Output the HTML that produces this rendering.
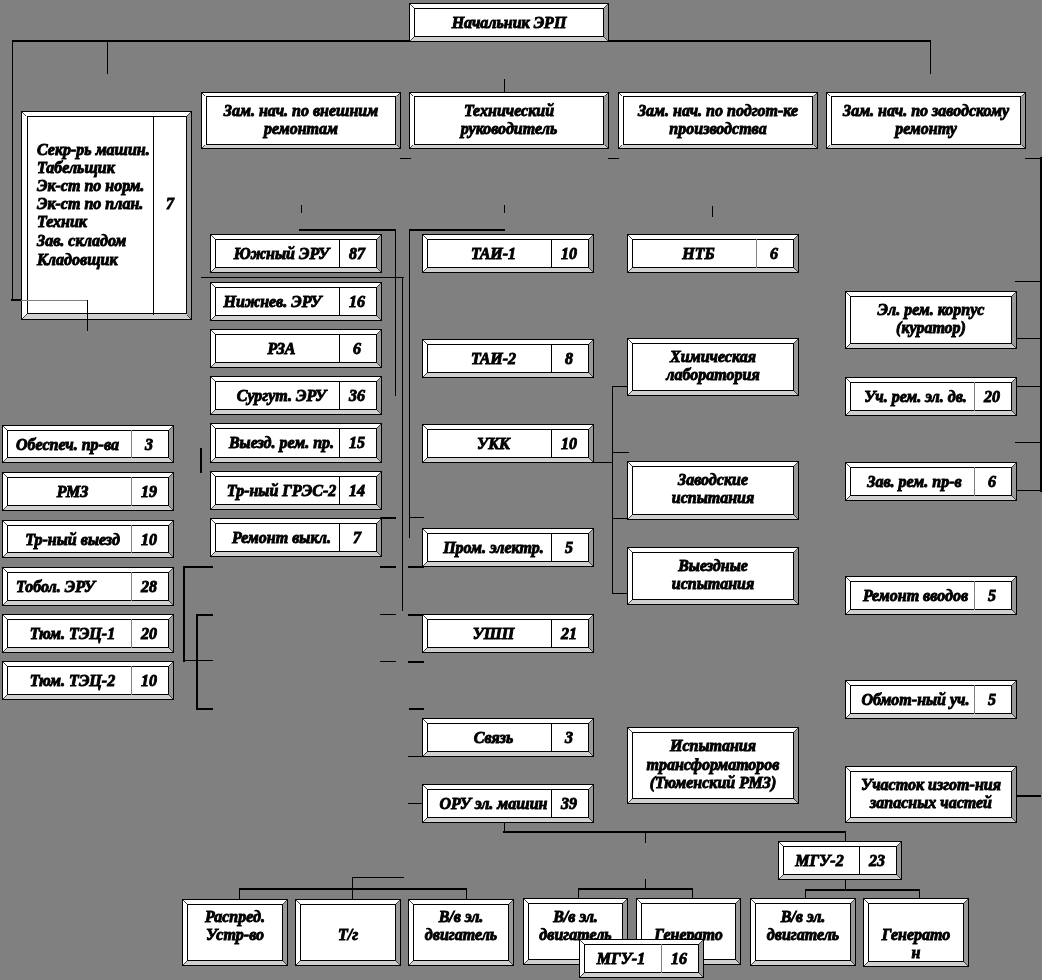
<!DOCTYPE html>
<html><head><meta charset="utf-8"><title>ЭРП</title>
<style>
html,body{margin:0;padding:0;}
body{width:1042px;height:980px;background:#808080;position:relative;overflow:hidden;
font-family:"Liberation Serif",serif;font-weight:bold;font-style:italic;font-size:16px;color:#000;}
.l{position:absolute;background:#000;}
.b{position:absolute;box-sizing:border-box;border:4px solid;border-color:#fff #999 #d0d0d0 #fff;background:#fff;
box-shadow:0 0 0 1px #000,inset 0 0 0 1px #000;}
.d{position:absolute;background:#000;width:1px;}
.g{position:absolute;fill:#404040;}
.t{position:absolute;white-space:nowrap;will-change:transform;text-align:center;line-height:18px;height:18px;-webkit-text-stroke:0.9px #000;}
</style></head><body>

<div class="l" style="left:12px;top:40px;width:919px;height:2px"></div>
<div class="l" style="left:12px;top:40px;width:1px;height:261px"></div>
<div class="l" style="left:107px;top:40px;width:1px;height:34px"></div>
<div class="l" style="left:930px;top:40px;width:1px;height:34px"></div>
<div class="l" style="left:504px;top:79px;width:1px;height:14px"></div>
<div class="l" style="left:11px;top:299px;width:11px;height:2px"></div>
<div class="l" style="left:400px;top:158px;width:11px;height:1px"></div>
<div class="l" style="left:608px;top:158px;width:11px;height:1px"></div>
<div class="l" style="left:1025px;top:158px;width:16px;height:1px"></div>
<div class="l" style="left:1040px;top:157px;width:2px;height:335px"></div>
<div class="l" style="left:1015px;top:281px;width:26px;height:1px"></div>
<div class="l" style="left:1015px;top:338px;width:26px;height:1px"></div>
<div class="l" style="left:1015px;top:386px;width:26px;height:1px"></div>
<div class="l" style="left:1015px;top:442px;width:26px;height:1px"></div>
<div class="l" style="left:1015px;top:490px;width:26px;height:1px"></div>
<div class="l" style="left:1016px;top:795px;width:25px;height:2px"></div>
<div class="l" style="left:301px;top:205px;width:1px;height:8px"></div>
<div class="l" style="left:504px;top:205px;width:1px;height:8px"></div>
<div class="l" style="left:712px;top:206px;width:1px;height:11px"></div>
<div class="l" style="left:299px;top:229px;width:97px;height:2px"></div>
<div class="l" style="left:409px;top:229px;width:96px;height:2px"></div>
<div class="l" style="left:395px;top:229px;width:1px;height:167px"></div>
<div class="l" style="left:409px;top:229px;width:1px;height:309px"></div>
<div class="l" style="left:201px;top:277px;width:203px;height:1px"></div>
<div class="l" style="left:402px;top:277px;width:1px;height:334px"></div>
<div class="l" style="left:200px;top:448px;width:2px;height:25px"></div>
<div class="l" style="left:380px;top:517px;width:16px;height:2px"></div>
<div class="l" style="left:409px;top:517px;width:15px;height:1px"></div>
<div class="l" style="left:183px;top:566px;width:30px;height:2px"></div>
<div class="l" style="left:380px;top:566px;width:16px;height:2px"></div>
<div class="l" style="left:408px;top:566px;width:16px;height:2px"></div>
<div class="l" style="left:183px;top:566px;width:2px;height:96px"></div>
<div class="l" style="left:183px;top:660px;width:30px;height:1px"></div>
<div class="l" style="left:196px;top:614px;width:2px;height:95px"></div>
<div class="l" style="left:196px;top:614px;width:17px;height:2px"></div>
<div class="l" style="left:196px;top:708px;width:17px;height:2px"></div>
<div class="l" style="left:380px;top:614px;width:16px;height:1px"></div>
<div class="l" style="left:408px;top:614px;width:16px;height:2px"></div>
<div class="l" style="left:380px;top:661px;width:16px;height:1px"></div>
<div class="l" style="left:408px;top:661px;width:16px;height:2px"></div>
<div class="l" style="left:409px;top:708px;width:15px;height:2px"></div>
<div class="l" style="left:408px;top:756px;width:15px;height:1px"></div>
<div class="l" style="left:408px;top:803px;width:15px;height:1px"></div>
<div class="l" style="left:504px;top:822px;width:1px;height:10px"></div>
<div class="l" style="left:503px;top:831px;width:343px;height:2px"></div>
<div class="l" style="left:845px;top:831px;width:1px;height:11px"></div>
<div class="l" style="left:645px;top:831px;width:1px;height:12px"></div>
<div class="l" style="left:645px;top:879px;width:1px;height:10px"></div>
<div class="l" style="left:578px;top:888px;width:115px;height:2px"></div>
<div class="l" style="left:578px;top:888px;width:1px;height:11px"></div>
<div class="l" style="left:692px;top:888px;width:1px;height:11px"></div>
<div class="l" style="left:845px;top:879px;width:1px;height:11px"></div>
<div class="l" style="left:805px;top:889px;width:115px;height:2px"></div>
<div class="l" style="left:805px;top:889px;width:1px;height:10px"></div>
<div class="l" style="left:919px;top:889px;width:1px;height:10px"></div>
<div class="l" style="left:239px;top:888px;width:228px;height:2px"></div>
<div class="l" style="left:239px;top:888px;width:1px;height:12px"></div>
<div class="l" style="left:466px;top:888px;width:1px;height:12px"></div>
<div class="l" style="left:352px;top:877px;width:1px;height:23px"></div>
<div class="l" style="left:352px;top:877px;width:52px;height:1px"></div>
<div class="l" style="left:612px;top:386px;width:1px;height:208px"></div>
<div class="l" style="left:612px;top:386px;width:16px;height:1px"></div>
<div class="l" style="left:612px;top:452px;width:17px;height:1px"></div>
<div class="l" style="left:593px;top:462px;width:20px;height:1px"></div>
<div class="l" style="left:612px;top:518px;width:17px;height:1px"></div>
<div class="l" style="left:612px;top:593px;width:17px;height:1px"></div>
<div class="b" style="left:410px;top:4px;width:198px;height:37px;border-width:4px"></div>
<svg class="g" style="left:409px;top:3px" width="200" height="39"><path d="M1 1h1v1h-1zM2 2h1v1h-1zM3 3h1v1h-1zM4 4h1v1h-1zM198 1h1v1h-1zM197 2h1v1h-1zM196 3h1v1h-1zM195 4h1v1h-1zM1 37h1v1h-1zM2 36h1v1h-1zM3 35h1v1h-1zM4 34h1v1h-1zM198 37h1v1h-1zM197 36h1v1h-1zM196 35h1v1h-1zM195 34h1v1h-1z"/></svg>
<div class="t" style="left:415px;width:188px;top:14px">Начальник ЭРП</div>
<div class="b" style="left:202px;top:93px;width:198px;height:55px;border-width:3px 4px"></div>
<svg class="g" style="left:201px;top:92px" width="200" height="57"><path d="M1 1h1v1h-1zM2 2h1v1h-1zM3 3h1v1h-1zM198 1h1v1h-1zM197 2h1v1h-1zM196 3h1v1h-1zM1 55h1v1h-1zM2 54h1v1h-1zM3 53h1v1h-1zM198 55h1v1h-1zM197 54h1v1h-1zM196 53h1v1h-1z"/></svg>
<div class="t" style="left:207px;width:188px;top:102px">Зам. нач. по внешним</div>
<div class="t" style="left:207px;width:188px;top:120px">ремонтам</div>
<div class="b" style="left:410px;top:93px;width:198px;height:55px;border-width:3px 4px"></div>
<svg class="g" style="left:409px;top:92px" width="200" height="57"><path d="M1 1h1v1h-1zM2 2h1v1h-1zM3 3h1v1h-1zM198 1h1v1h-1zM197 2h1v1h-1zM196 3h1v1h-1zM1 55h1v1h-1zM2 54h1v1h-1zM3 53h1v1h-1zM198 55h1v1h-1zM197 54h1v1h-1zM196 53h1v1h-1z"/></svg>
<div class="t" style="left:415px;width:188px;top:102px">Технический</div>
<div class="t" style="left:415px;width:188px;top:120px">руководитель</div>
<div class="b" style="left:619px;top:93px;width:198px;height:55px;border-width:3px 4px"></div>
<svg class="g" style="left:618px;top:92px" width="200" height="57"><path d="M1 1h1v1h-1zM2 2h1v1h-1zM3 3h1v1h-1zM198 1h1v1h-1zM197 2h1v1h-1zM196 3h1v1h-1zM1 55h1v1h-1zM2 54h1v1h-1zM3 53h1v1h-1zM198 55h1v1h-1zM197 54h1v1h-1zM196 53h1v1h-1z"/></svg>
<div class="t" style="left:624px;width:188px;top:102px">Зам. нач. по подгот-ке</div>
<div class="t" style="left:624px;width:188px;top:120px">производства</div>
<div class="b" style="left:827px;top:93px;width:198px;height:55px;border-width:3px 4px"></div>
<svg class="g" style="left:826px;top:92px" width="200" height="57"><path d="M1 1h1v1h-1zM2 2h1v1h-1zM3 3h1v1h-1zM198 1h1v1h-1zM197 2h1v1h-1zM196 3h1v1h-1zM1 55h1v1h-1zM2 54h1v1h-1zM3 53h1v1h-1zM198 55h1v1h-1zM197 54h1v1h-1zM196 53h1v1h-1z"/></svg>
<div class="t" style="left:832px;width:188px;top:102px">Зам. нач. по заводскому</div>
<div class="t" style="left:832px;width:188px;top:120px">ремонту</div>
<div class="b" style="left:22px;top:112px;width:169px;height:207px;border-width:4px 4px 5px 5px"></div>
<div class="d" style="left:153px;top:116px;height:199px;background:#000"></div>
<svg class="g" style="left:21px;top:111px" width="171" height="209"><path d="M1 1h1v1h-1zM2 2h1v1h-1zM3 3h1v1h-1zM4 4h1v1h-1zM169 1h1v1h-1zM168 2h1v1h-1zM167 3h1v1h-1zM166 4h1v1h-1zM1 207h1v1h-1zM2 206h1v1h-1zM3 205h1v1h-1zM4 204h1v1h-1zM5 203h1v1h-1zM169 207h1v1h-1zM168 206h1v1h-1zM167 205h1v1h-1zM166 204h1v1h-1z"/></svg>
<div class="t" style="left:37px;top:141px;text-align:left">Секр-рь машин.</div>
<div class="t" style="left:37px;top:159px;text-align:left">Табельщик</div>
<div class="t" style="left:37px;top:177px;text-align:left">Эк-ст по норм.</div>
<div class="t" style="left:37px;top:195px;text-align:left">Эк-ст по план.</div>
<div class="t" style="left:37px;top:213px;text-align:left">Техник</div>
<div class="t" style="left:37px;top:232px;text-align:left">Зав. складом</div>
<div class="t" style="left:37px;top:251px;text-align:left">Кладовщик</div>
<div class="t" style="left:154px;width:32px;top:195px">7</div>
<div class="b" style="left:211px;top:235px;width:170px;height:37px;border-width:4px"></div>
<div class="d" style="left:339px;top:239px;height:29px;background:#000"></div>
<svg class="g" style="left:210px;top:234px" width="172" height="39"><path d="M1 1h1v1h-1zM2 2h1v1h-1zM3 3h1v1h-1zM4 4h1v1h-1zM170 1h1v1h-1zM169 2h1v1h-1zM168 3h1v1h-1zM167 4h1v1h-1zM1 37h1v1h-1zM2 36h1v1h-1zM3 35h1v1h-1zM4 34h1v1h-1zM170 37h1v1h-1zM169 36h1v1h-1zM168 35h1v1h-1zM167 34h1v1h-1z"/></svg>
<div class="t" style="left:220px;width:123px;top:245px">Южный ЭРУ</div>
<div class="t" style="left:339px;width:36px;top:245px">87</div>
<div class="b" style="left:211px;top:283px;width:170px;height:37px;border-width:4px"></div>
<div class="d" style="left:339px;top:287px;height:29px;background:#000"></div>
<svg class="g" style="left:210px;top:282px" width="172" height="39"><path d="M1 1h1v1h-1zM2 2h1v1h-1zM3 3h1v1h-1zM4 4h1v1h-1zM170 1h1v1h-1zM169 2h1v1h-1zM168 3h1v1h-1zM167 4h1v1h-1zM1 37h1v1h-1zM2 36h1v1h-1zM3 35h1v1h-1zM4 34h1v1h-1zM170 37h1v1h-1zM169 36h1v1h-1zM168 35h1v1h-1zM167 34h1v1h-1z"/></svg>
<div class="t" style="left:211px;width:123px;top:293px">Нижнев. ЭРУ</div>
<div class="t" style="left:339px;width:36px;top:293px">16</div>
<div class="b" style="left:211px;top:330px;width:170px;height:37px;border-width:4px"></div>
<div class="d" style="left:339px;top:334px;height:29px;background:#000"></div>
<svg class="g" style="left:210px;top:329px" width="172" height="39"><path d="M1 1h1v1h-1zM2 2h1v1h-1zM3 3h1v1h-1zM4 4h1v1h-1zM170 1h1v1h-1zM169 2h1v1h-1zM168 3h1v1h-1zM167 4h1v1h-1zM1 37h1v1h-1zM2 36h1v1h-1zM3 35h1v1h-1zM4 34h1v1h-1zM170 37h1v1h-1zM169 36h1v1h-1zM168 35h1v1h-1zM167 34h1v1h-1z"/></svg>
<div class="t" style="left:220px;width:123px;top:340px">РЗА</div>
<div class="t" style="left:339px;width:36px;top:340px">6</div>
<div class="b" style="left:211px;top:377px;width:170px;height:37px;border-width:4px"></div>
<div class="d" style="left:339px;top:381px;height:29px;background:#000"></div>
<svg class="g" style="left:210px;top:376px" width="172" height="39"><path d="M1 1h1v1h-1zM2 2h1v1h-1zM3 3h1v1h-1zM4 4h1v1h-1zM170 1h1v1h-1zM169 2h1v1h-1zM168 3h1v1h-1zM167 4h1v1h-1zM1 37h1v1h-1zM2 36h1v1h-1zM3 35h1v1h-1zM4 34h1v1h-1zM170 37h1v1h-1zM169 36h1v1h-1zM168 35h1v1h-1zM167 34h1v1h-1z"/></svg>
<div class="t" style="left:220px;width:123px;top:387px">Сургут. ЭРУ</div>
<div class="t" style="left:339px;width:36px;top:387px">36</div>
<div class="b" style="left:211px;top:424px;width:170px;height:38px;border-width:4px"></div>
<div class="d" style="left:339px;top:428px;height:30px;background:#000"></div>
<svg class="g" style="left:210px;top:423px" width="172" height="40"><path d="M1 1h1v1h-1zM2 2h1v1h-1zM3 3h1v1h-1zM4 4h1v1h-1zM170 1h1v1h-1zM169 2h1v1h-1zM168 3h1v1h-1zM167 4h1v1h-1zM1 38h1v1h-1zM2 37h1v1h-1zM3 36h1v1h-1zM4 35h1v1h-1zM170 38h1v1h-1zM169 37h1v1h-1zM168 36h1v1h-1zM167 35h1v1h-1z"/></svg>
<div class="t" style="left:220px;width:123px;top:434px">Выезд. рем. пр.</div>
<div class="t" style="left:339px;width:36px;top:434px">15</div>
<div class="b" style="left:211px;top:472px;width:170px;height:37px;border-width:4px"></div>
<div class="d" style="left:339px;top:476px;height:29px;background:#000"></div>
<svg class="g" style="left:210px;top:471px" width="172" height="39"><path d="M1 1h1v1h-1zM2 2h1v1h-1zM3 3h1v1h-1zM4 4h1v1h-1zM170 1h1v1h-1zM169 2h1v1h-1zM168 3h1v1h-1zM167 4h1v1h-1zM1 37h1v1h-1zM2 36h1v1h-1zM3 35h1v1h-1zM4 34h1v1h-1zM170 37h1v1h-1zM169 36h1v1h-1zM168 35h1v1h-1zM167 34h1v1h-1z"/></svg>
<div class="t" style="left:220px;width:123px;top:482px">Тр-ный ГРЭС-2</div>
<div class="t" style="left:339px;width:36px;top:482px">14</div>
<div class="b" style="left:211px;top:519px;width:170px;height:37px;border-width:4px"></div>
<div class="d" style="left:339px;top:523px;height:29px;background:#000"></div>
<svg class="g" style="left:210px;top:518px" width="172" height="39"><path d="M1 1h1v1h-1zM2 2h1v1h-1zM3 3h1v1h-1zM4 4h1v1h-1zM170 1h1v1h-1zM169 2h1v1h-1zM168 3h1v1h-1zM167 4h1v1h-1zM1 37h1v1h-1zM2 36h1v1h-1zM3 35h1v1h-1zM4 34h1v1h-1zM170 37h1v1h-1zM169 36h1v1h-1zM168 35h1v1h-1zM167 34h1v1h-1z"/></svg>
<div class="t" style="left:220px;width:123px;top:529px">Ремонт выкл.</div>
<div class="t" style="left:339px;width:36px;top:529px">7</div>
<div class="b" style="left:3px;top:426px;width:170px;height:36px;border-width:4px"></div>
<div class="d" style="left:131px;top:430px;height:28px;background:#808080"></div>
<svg class="g" style="left:2px;top:425px" width="172" height="38"><path d="M1 1h1v1h-1zM2 2h1v1h-1zM3 3h1v1h-1zM4 4h1v1h-1zM170 1h1v1h-1zM169 2h1v1h-1zM168 3h1v1h-1zM167 4h1v1h-1zM1 36h1v1h-1zM2 35h1v1h-1zM3 34h1v1h-1zM4 33h1v1h-1zM170 36h1v1h-1zM169 35h1v1h-1zM168 34h1v1h-1zM167 33h1v1h-1z"/></svg>
<div class="t" style="left:16px;top:436px;text-align:left">Обеспеч. пр-ва</div>
<div class="t" style="left:131px;width:36px;top:436px">3</div>
<div class="b" style="left:3px;top:473px;width:170px;height:37px;border-width:4px"></div>
<div class="d" style="left:131px;top:477px;height:29px;background:#808080"></div>
<svg class="g" style="left:2px;top:472px" width="172" height="39"><path d="M1 1h1v1h-1zM2 2h1v1h-1zM3 3h1v1h-1zM4 4h1v1h-1zM170 1h1v1h-1zM169 2h1v1h-1zM168 3h1v1h-1zM167 4h1v1h-1zM1 37h1v1h-1zM2 36h1v1h-1zM3 35h1v1h-1zM4 34h1v1h-1zM170 37h1v1h-1zM169 36h1v1h-1zM168 35h1v1h-1zM167 34h1v1h-1z"/></svg>
<div class="t" style="left:11px;width:123px;top:483px">РМЗ</div>
<div class="t" style="left:131px;width:36px;top:483px">19</div>
<div class="b" style="left:3px;top:521px;width:170px;height:36px;border-width:4px"></div>
<div class="d" style="left:131px;top:525px;height:28px;background:#808080"></div>
<svg class="g" style="left:2px;top:520px" width="172" height="38"><path d="M1 1h1v1h-1zM2 2h1v1h-1zM3 3h1v1h-1zM4 4h1v1h-1zM170 1h1v1h-1zM169 2h1v1h-1zM168 3h1v1h-1zM167 4h1v1h-1zM1 36h1v1h-1zM2 35h1v1h-1zM3 34h1v1h-1zM4 33h1v1h-1zM170 36h1v1h-1zM169 35h1v1h-1zM168 34h1v1h-1zM167 33h1v1h-1z"/></svg>
<div class="t" style="left:11px;width:123px;top:531px">Тр-ный выезд</div>
<div class="t" style="left:131px;width:36px;top:531px">10</div>
<div class="b" style="left:3px;top:568px;width:170px;height:37px;border-width:4px"></div>
<div class="d" style="left:131px;top:572px;height:29px;background:#808080"></div>
<svg class="g" style="left:2px;top:567px" width="172" height="39"><path d="M1 1h1v1h-1zM2 2h1v1h-1zM3 3h1v1h-1zM4 4h1v1h-1zM170 1h1v1h-1zM169 2h1v1h-1zM168 3h1v1h-1zM167 4h1v1h-1zM1 37h1v1h-1zM2 36h1v1h-1zM3 35h1v1h-1zM4 34h1v1h-1zM170 37h1v1h-1zM169 36h1v1h-1zM168 35h1v1h-1zM167 34h1v1h-1z"/></svg>
<div class="t" style="left:16px;top:578px;text-align:left">Тобол. ЭРУ</div>
<div class="t" style="left:131px;width:36px;top:578px">28</div>
<div class="b" style="left:3px;top:615px;width:170px;height:37px;border-width:4px"></div>
<div class="d" style="left:131px;top:619px;height:29px;background:#808080"></div>
<svg class="g" style="left:2px;top:614px" width="172" height="39"><path d="M1 1h1v1h-1zM2 2h1v1h-1zM3 3h1v1h-1zM4 4h1v1h-1zM170 1h1v1h-1zM169 2h1v1h-1zM168 3h1v1h-1zM167 4h1v1h-1zM1 37h1v1h-1zM2 36h1v1h-1zM3 35h1v1h-1zM4 34h1v1h-1zM170 37h1v1h-1zM169 36h1v1h-1zM168 35h1v1h-1zM167 34h1v1h-1z"/></svg>
<div class="t" style="left:11px;width:123px;top:625px">Тюм. ТЭЦ-1</div>
<div class="t" style="left:131px;width:36px;top:625px">20</div>
<div class="b" style="left:3px;top:662px;width:170px;height:37px;border-width:4px"></div>
<div class="d" style="left:131px;top:666px;height:29px;background:#808080"></div>
<svg class="g" style="left:2px;top:661px" width="172" height="39"><path d="M1 1h1v1h-1zM2 2h1v1h-1zM3 3h1v1h-1zM4 4h1v1h-1zM170 1h1v1h-1zM169 2h1v1h-1zM168 3h1v1h-1zM167 4h1v1h-1zM1 37h1v1h-1zM2 36h1v1h-1zM3 35h1v1h-1zM4 34h1v1h-1zM170 37h1v1h-1zM169 36h1v1h-1zM168 35h1v1h-1zM167 34h1v1h-1z"/></svg>
<div class="t" style="left:11px;width:123px;top:672px">Тюм. ТЭЦ-2</div>
<div class="t" style="left:131px;width:36px;top:672px">10</div>
<div class="b" style="left:423px;top:235px;width:170px;height:37px;border-width:4px"></div>
<div class="d" style="left:551px;top:239px;height:29px;background:#000"></div>
<svg class="g" style="left:422px;top:234px" width="172" height="39"><path d="M1 1h1v1h-1zM2 2h1v1h-1zM3 3h1v1h-1zM4 4h1v1h-1zM170 1h1v1h-1zM169 2h1v1h-1zM168 3h1v1h-1zM167 4h1v1h-1zM1 37h1v1h-1zM2 36h1v1h-1zM3 35h1v1h-1zM4 34h1v1h-1zM170 37h1v1h-1zM169 36h1v1h-1zM168 35h1v1h-1zM167 34h1v1h-1z"/></svg>
<div class="t" style="left:432px;width:123px;top:245px">ТАИ-1</div>
<div class="t" style="left:551px;width:36px;top:245px">10</div>
<div class="b" style="left:423px;top:340px;width:170px;height:37px;border-width:4px"></div>
<div class="d" style="left:551px;top:344px;height:29px;background:#000"></div>
<svg class="g" style="left:422px;top:339px" width="172" height="39"><path d="M1 1h1v1h-1zM2 2h1v1h-1zM3 3h1v1h-1zM4 4h1v1h-1zM170 1h1v1h-1zM169 2h1v1h-1zM168 3h1v1h-1zM167 4h1v1h-1zM1 37h1v1h-1zM2 36h1v1h-1zM3 35h1v1h-1zM4 34h1v1h-1zM170 37h1v1h-1zM169 36h1v1h-1zM168 35h1v1h-1zM167 34h1v1h-1z"/></svg>
<div class="t" style="left:432px;width:123px;top:350px">ТАИ-2</div>
<div class="t" style="left:551px;width:36px;top:350px">8</div>
<div class="b" style="left:423px;top:425px;width:170px;height:37px;border-width:4px"></div>
<div class="d" style="left:551px;top:429px;height:29px;background:#000"></div>
<svg class="g" style="left:422px;top:424px" width="172" height="39"><path d="M1 1h1v1h-1zM2 2h1v1h-1zM3 3h1v1h-1zM4 4h1v1h-1zM170 1h1v1h-1zM169 2h1v1h-1zM168 3h1v1h-1zM167 4h1v1h-1zM1 37h1v1h-1zM2 36h1v1h-1zM3 35h1v1h-1zM4 34h1v1h-1zM170 37h1v1h-1zM169 36h1v1h-1zM168 35h1v1h-1zM167 34h1v1h-1z"/></svg>
<div class="t" style="left:432px;width:123px;top:435px">УКК</div>
<div class="t" style="left:551px;width:36px;top:435px">10</div>
<div class="b" style="left:423px;top:529px;width:170px;height:37px;border-width:4px"></div>
<div class="d" style="left:551px;top:533px;height:29px;background:#000"></div>
<svg class="g" style="left:422px;top:528px" width="172" height="39"><path d="M1 1h1v1h-1zM2 2h1v1h-1zM3 3h1v1h-1zM4 4h1v1h-1zM170 1h1v1h-1zM169 2h1v1h-1zM168 3h1v1h-1zM167 4h1v1h-1zM1 37h1v1h-1zM2 36h1v1h-1zM3 35h1v1h-1zM4 34h1v1h-1zM170 37h1v1h-1zM169 36h1v1h-1zM168 35h1v1h-1zM167 34h1v1h-1z"/></svg>
<div class="t" style="left:432px;width:123px;top:539px">Пром. электр.</div>
<div class="t" style="left:551px;width:36px;top:539px">5</div>
<div class="b" style="left:423px;top:615px;width:170px;height:37px;border-width:4px"></div>
<div class="d" style="left:551px;top:619px;height:29px;background:#000"></div>
<svg class="g" style="left:422px;top:614px" width="172" height="39"><path d="M1 1h1v1h-1zM2 2h1v1h-1zM3 3h1v1h-1zM4 4h1v1h-1zM170 1h1v1h-1zM169 2h1v1h-1zM168 3h1v1h-1zM167 4h1v1h-1zM1 37h1v1h-1zM2 36h1v1h-1zM3 35h1v1h-1zM4 34h1v1h-1zM170 37h1v1h-1zM169 36h1v1h-1zM168 35h1v1h-1zM167 34h1v1h-1z"/></svg>
<div class="t" style="left:432px;width:123px;top:625px">УШП</div>
<div class="t" style="left:551px;width:36px;top:625px">21</div>
<div class="b" style="left:423px;top:719px;width:170px;height:37px;border-width:4px"></div>
<div class="d" style="left:551px;top:723px;height:29px;background:#000"></div>
<svg class="g" style="left:422px;top:718px" width="172" height="39"><path d="M1 1h1v1h-1zM2 2h1v1h-1zM3 3h1v1h-1zM4 4h1v1h-1zM170 1h1v1h-1zM169 2h1v1h-1zM168 3h1v1h-1zM167 4h1v1h-1zM1 37h1v1h-1zM2 36h1v1h-1zM3 35h1v1h-1zM4 34h1v1h-1zM170 37h1v1h-1zM169 36h1v1h-1zM168 35h1v1h-1zM167 34h1v1h-1z"/></svg>
<div class="t" style="left:432px;width:123px;top:729px">Связь</div>
<div class="t" style="left:551px;width:36px;top:729px">3</div>
<div class="b" style="left:423px;top:785px;width:170px;height:37px;border-width:4px"></div>
<div class="d" style="left:551px;top:789px;height:29px;background:#000"></div>
<svg class="g" style="left:422px;top:784px" width="172" height="39"><path d="M1 1h1v1h-1zM2 2h1v1h-1zM3 3h1v1h-1zM4 4h1v1h-1zM170 1h1v1h-1zM169 2h1v1h-1zM168 3h1v1h-1zM167 4h1v1h-1zM1 37h1v1h-1zM2 36h1v1h-1zM3 35h1v1h-1zM4 34h1v1h-1zM170 37h1v1h-1zM169 36h1v1h-1zM168 35h1v1h-1zM167 34h1v1h-1z"/></svg>
<div class="t" style="left:432px;width:123px;top:795px">ОРУ эл. машин</div>
<div class="t" style="left:551px;width:36px;top:795px">39</div>
<div class="b" style="left:628px;top:235px;width:170px;height:37px;border-width:4px"></div>
<div class="d" style="left:756px;top:239px;height:29px;background:#808080"></div>
<svg class="g" style="left:627px;top:234px" width="172" height="39"><path d="M1 1h1v1h-1zM2 2h1v1h-1zM3 3h1v1h-1zM4 4h1v1h-1zM170 1h1v1h-1zM169 2h1v1h-1zM168 3h1v1h-1zM167 4h1v1h-1zM1 37h1v1h-1zM2 36h1v1h-1zM3 35h1v1h-1zM4 34h1v1h-1zM170 37h1v1h-1zM169 36h1v1h-1zM168 35h1v1h-1zM167 34h1v1h-1z"/></svg>
<div class="t" style="left:637px;width:123px;top:245px">НТБ</div>
<div class="t" style="left:756px;width:36px;top:245px">6</div>
<div class="b" style="left:628px;top:339px;width:170px;height:56px;border-width:4px"></div>
<svg class="g" style="left:627px;top:338px" width="172" height="58"><path d="M1 1h1v1h-1zM2 2h1v1h-1zM3 3h1v1h-1zM4 4h1v1h-1zM170 1h1v1h-1zM169 2h1v1h-1zM168 3h1v1h-1zM167 4h1v1h-1zM1 56h1v1h-1zM2 55h1v1h-1zM3 54h1v1h-1zM4 53h1v1h-1zM170 56h1v1h-1zM169 55h1v1h-1zM168 54h1v1h-1zM167 53h1v1h-1z"/></svg>
<div class="t" style="left:633px;width:160px;top:348px">Химическая</div>
<div class="t" style="left:633px;width:160px;top:366px">лаборатория</div>
<div class="b" style="left:628px;top:462px;width:170px;height:57px;border-width:4px"></div>
<svg class="g" style="left:627px;top:461px" width="172" height="59"><path d="M1 1h1v1h-1zM2 2h1v1h-1zM3 3h1v1h-1zM4 4h1v1h-1zM170 1h1v1h-1zM169 2h1v1h-1zM168 3h1v1h-1zM167 4h1v1h-1zM1 57h1v1h-1zM2 56h1v1h-1zM3 55h1v1h-1zM4 54h1v1h-1zM170 57h1v1h-1zM169 56h1v1h-1zM168 55h1v1h-1zM167 54h1v1h-1z"/></svg>
<div class="t" style="left:633px;width:160px;top:471px">Заводские</div>
<div class="t" style="left:633px;width:160px;top:489px">испытания</div>
<div class="b" style="left:628px;top:548px;width:170px;height:56px;border-width:4px"></div>
<svg class="g" style="left:627px;top:547px" width="172" height="58"><path d="M1 1h1v1h-1zM2 2h1v1h-1zM3 3h1v1h-1zM4 4h1v1h-1zM170 1h1v1h-1zM169 2h1v1h-1zM168 3h1v1h-1zM167 4h1v1h-1zM1 56h1v1h-1zM2 55h1v1h-1zM3 54h1v1h-1zM4 53h1v1h-1zM170 56h1v1h-1zM169 55h1v1h-1zM168 54h1v1h-1zM167 53h1v1h-1z"/></svg>
<div class="t" style="left:633px;width:160px;top:557px">Выездные</div>
<div class="t" style="left:633px;width:160px;top:575px">испытания</div>
<div class="b" style="left:628px;top:728px;width:170px;height:75px;border-width:4px"></div>
<svg class="g" style="left:627px;top:727px" width="172" height="77"><path d="M1 1h1v1h-1zM2 2h1v1h-1zM3 3h1v1h-1zM4 4h1v1h-1zM170 1h1v1h-1zM169 2h1v1h-1zM168 3h1v1h-1zM167 4h1v1h-1zM1 75h1v1h-1zM2 74h1v1h-1zM3 73h1v1h-1zM4 72h1v1h-1zM170 75h1v1h-1zM169 74h1v1h-1zM168 73h1v1h-1zM167 72h1v1h-1z"/></svg>
<div class="t" style="left:633px;width:160px;top:737px">Испытания</div>
<div class="t" style="left:633px;width:160px;top:756px">трансформаторов</div>
<div class="t" style="left:633px;width:160px;top:774px">(Тюменский РМЗ)</div>
<div class="b" style="left:846px;top:292px;width:170px;height:56px;border-width:4px"></div>
<svg class="g" style="left:845px;top:291px" width="172" height="58"><path d="M1 1h1v1h-1zM2 2h1v1h-1zM3 3h1v1h-1zM4 4h1v1h-1zM170 1h1v1h-1zM169 2h1v1h-1zM168 3h1v1h-1zM167 4h1v1h-1zM1 56h1v1h-1zM2 55h1v1h-1zM3 54h1v1h-1zM4 53h1v1h-1zM170 56h1v1h-1zM169 55h1v1h-1zM168 54h1v1h-1zM167 53h1v1h-1z"/></svg>
<div class="t" style="left:851px;width:160px;top:301px">Эл. рем. корпус</div>
<div class="t" style="left:851px;width:160px;top:319px">(куратор)</div>
<div class="b" style="left:846px;top:378px;width:170px;height:37px;border-width:4px"></div>
<div class="d" style="left:974px;top:382px;height:29px;background:#808080"></div>
<svg class="g" style="left:845px;top:377px" width="172" height="39"><path d="M1 1h1v1h-1zM2 2h1v1h-1zM3 3h1v1h-1zM4 4h1v1h-1zM170 1h1v1h-1zM169 2h1v1h-1zM168 3h1v1h-1zM167 4h1v1h-1zM1 37h1v1h-1zM2 36h1v1h-1zM3 35h1v1h-1zM4 34h1v1h-1zM170 37h1v1h-1zM169 36h1v1h-1zM168 35h1v1h-1zM167 34h1v1h-1z"/></svg>
<div class="t" style="left:854px;width:123px;top:388px">Уч. рем. эл. дв.</div>
<div class="t" style="left:974px;width:36px;top:388px">20</div>
<div class="b" style="left:846px;top:463px;width:170px;height:37px;border-width:4px"></div>
<div class="d" style="left:974px;top:467px;height:29px;background:#808080"></div>
<svg class="g" style="left:845px;top:462px" width="172" height="39"><path d="M1 1h1v1h-1zM2 2h1v1h-1zM3 3h1v1h-1zM4 4h1v1h-1zM170 1h1v1h-1zM169 2h1v1h-1zM168 3h1v1h-1zM167 4h1v1h-1zM1 37h1v1h-1zM2 36h1v1h-1zM3 35h1v1h-1zM4 34h1v1h-1zM170 37h1v1h-1zM169 36h1v1h-1zM168 35h1v1h-1zM167 34h1v1h-1z"/></svg>
<div class="t" style="left:853px;width:123px;top:473px">Зав. рем. пр-в</div>
<div class="t" style="left:974px;width:36px;top:473px">6</div>
<div class="b" style="left:846px;top:577px;width:170px;height:37px;border-width:4px"></div>
<div class="d" style="left:974px;top:581px;height:29px;background:#808080"></div>
<svg class="g" style="left:845px;top:576px" width="172" height="39"><path d="M1 1h1v1h-1zM2 2h1v1h-1zM3 3h1v1h-1zM4 4h1v1h-1zM170 1h1v1h-1zM169 2h1v1h-1zM168 3h1v1h-1zM167 4h1v1h-1zM1 37h1v1h-1zM2 36h1v1h-1zM3 35h1v1h-1zM4 34h1v1h-1zM170 37h1v1h-1zM169 36h1v1h-1zM168 35h1v1h-1zM167 34h1v1h-1z"/></svg>
<div class="t" style="left:854px;width:123px;top:587px">Ремонт вводов</div>
<div class="t" style="left:974px;width:36px;top:587px">5</div>
<div class="b" style="left:846px;top:681px;width:170px;height:37px;border-width:4px"></div>
<div class="d" style="left:974px;top:685px;height:29px;background:#808080"></div>
<svg class="g" style="left:845px;top:680px" width="172" height="39"><path d="M1 1h1v1h-1zM2 2h1v1h-1zM3 3h1v1h-1zM4 4h1v1h-1zM170 1h1v1h-1zM169 2h1v1h-1zM168 3h1v1h-1zM167 4h1v1h-1zM1 37h1v1h-1zM2 36h1v1h-1zM3 35h1v1h-1zM4 34h1v1h-1zM170 37h1v1h-1zM169 36h1v1h-1zM168 35h1v1h-1zM167 34h1v1h-1z"/></svg>
<div class="t" style="left:854px;width:123px;top:691px">Обмот-ный уч.</div>
<div class="t" style="left:974px;width:36px;top:691px">5</div>
<div class="b" style="left:846px;top:767px;width:170px;height:55px;border-width:4px"></div>
<svg class="g" style="left:845px;top:766px" width="172" height="57"><path d="M1 1h1v1h-1zM2 2h1v1h-1zM3 3h1v1h-1zM4 4h1v1h-1zM170 1h1v1h-1zM169 2h1v1h-1zM168 3h1v1h-1zM167 4h1v1h-1zM1 55h1v1h-1zM2 54h1v1h-1zM3 53h1v1h-1zM4 52h1v1h-1zM170 55h1v1h-1zM169 54h1v1h-1zM168 53h1v1h-1zM167 52h1v1h-1z"/></svg>
<div class="t" style="left:851px;width:160px;top:776px">Участок изгот-ния</div>
<div class="t" style="left:851px;width:160px;top:794px">запасных частей</div>
<div class="b" style="left:779px;top:842px;width:122px;height:37px;border-width:4px"></div>
<div class="d" style="left:859px;top:846px;height:29px;background:#000"></div>
<svg class="g" style="left:778px;top:841px" width="124" height="39"><path d="M1 1h1v1h-1zM2 2h1v1h-1zM3 3h1v1h-1zM4 4h1v1h-1zM122 1h1v1h-1zM121 2h1v1h-1zM120 3h1v1h-1zM119 4h1v1h-1zM1 37h1v1h-1zM2 36h1v1h-1zM3 35h1v1h-1zM4 34h1v1h-1zM122 37h1v1h-1zM121 36h1v1h-1zM120 35h1v1h-1zM119 34h1v1h-1z"/></svg>
<div class="t" style="left:782px;width:75px;top:852px">МГУ-2</div>
<div class="t" style="left:859px;width:36px;top:852px">23</div>
<div class="b" style="left:183px;top:900px;width:104px;height:65px;border-width:4px"></div>
<svg class="g" style="left:182px;top:899px" width="106" height="67"><path d="M1 1h1v1h-1zM2 2h1v1h-1zM3 3h1v1h-1zM4 4h1v1h-1zM104 1h1v1h-1zM103 2h1v1h-1zM102 3h1v1h-1zM101 4h1v1h-1zM1 65h1v1h-1zM2 64h1v1h-1zM3 63h1v1h-1zM4 62h1v1h-1zM104 65h1v1h-1zM103 64h1v1h-1zM102 63h1v1h-1zM101 62h1v1h-1z"/></svg>
<div class="t" style="left:188px;width:94px;top:908px">Распред.</div>
<div class="t" style="left:188px;width:94px;top:926px">Устр-во</div>
<div class="b" style="left:296px;top:900px;width:104px;height:65px;border-width:4px"></div>
<svg class="g" style="left:295px;top:899px" width="106" height="67"><path d="M1 1h1v1h-1zM2 2h1v1h-1zM3 3h1v1h-1zM4 4h1v1h-1zM104 1h1v1h-1zM103 2h1v1h-1zM102 3h1v1h-1zM101 4h1v1h-1zM1 65h1v1h-1zM2 64h1v1h-1zM3 63h1v1h-1zM4 62h1v1h-1zM104 65h1v1h-1zM103 64h1v1h-1zM102 63h1v1h-1zM101 62h1v1h-1z"/></svg>
<div class="t" style="left:301px;width:94px;top:926px">T/г</div>
<div class="b" style="left:409px;top:900px;width:104px;height:65px;border-width:4px"></div>
<svg class="g" style="left:408px;top:899px" width="106" height="67"><path d="M1 1h1v1h-1zM2 2h1v1h-1zM3 3h1v1h-1zM4 4h1v1h-1zM104 1h1v1h-1zM103 2h1v1h-1zM102 3h1v1h-1zM101 4h1v1h-1zM1 65h1v1h-1zM2 64h1v1h-1zM3 63h1v1h-1zM4 62h1v1h-1zM104 65h1v1h-1zM103 64h1v1h-1zM102 63h1v1h-1zM101 62h1v1h-1z"/></svg>
<div class="t" style="left:414px;width:94px;top:908px">В/в эл.</div>
<div class="t" style="left:414px;width:94px;top:926px">двигатель</div>
<div class="b" style="left:524px;top:899px;width:103px;height:65px;border-width:4px"></div>
<svg class="g" style="left:523px;top:898px" width="105" height="67"><path d="M1 1h1v1h-1zM2 2h1v1h-1zM3 3h1v1h-1zM4 4h1v1h-1zM103 1h1v1h-1zM102 2h1v1h-1zM101 3h1v1h-1zM100 4h1v1h-1zM1 65h1v1h-1zM2 64h1v1h-1zM3 63h1v1h-1zM4 62h1v1h-1zM103 65h1v1h-1zM102 64h1v1h-1zM101 63h1v1h-1zM100 62h1v1h-1z"/></svg>
<div class="t" style="left:529px;width:93px;top:908px">В/в эл.</div>
<div class="t" style="left:529px;width:93px;top:926px">двигатель</div>
<div class="b" style="left:637px;top:899px;width:103px;height:65px;border-width:4px"></div>
<svg class="g" style="left:636px;top:898px" width="105" height="67"><path d="M1 1h1v1h-1zM2 2h1v1h-1zM3 3h1v1h-1zM4 4h1v1h-1zM103 1h1v1h-1zM102 2h1v1h-1zM101 3h1v1h-1zM100 4h1v1h-1zM1 65h1v1h-1zM2 64h1v1h-1zM3 63h1v1h-1zM4 62h1v1h-1zM103 65h1v1h-1zM102 64h1v1h-1zM101 63h1v1h-1zM100 62h1v1h-1z"/></svg>
<div class="t" style="left:642px;width:93px;top:926px">Генерато</div>
<div class="b" style="left:751px;top:899px;width:104px;height:66px;border-width:4px"></div>
<svg class="g" style="left:750px;top:898px" width="106" height="68"><path d="M1 1h1v1h-1zM2 2h1v1h-1zM3 3h1v1h-1zM4 4h1v1h-1zM104 1h1v1h-1zM103 2h1v1h-1zM102 3h1v1h-1zM101 4h1v1h-1zM1 66h1v1h-1zM2 65h1v1h-1zM3 64h1v1h-1zM4 63h1v1h-1zM104 66h1v1h-1zM103 65h1v1h-1zM102 64h1v1h-1zM101 63h1v1h-1z"/></svg>
<div class="t" style="left:756px;width:94px;top:908px">В/в эл.</div>
<div class="t" style="left:756px;width:94px;top:926px">двигатель</div>
<div class="b" style="left:864px;top:899px;width:104px;height:67px;border-width:4px"></div>
<svg class="g" style="left:863px;top:898px" width="106" height="69"><path d="M1 1h1v1h-1zM2 2h1v1h-1zM3 3h1v1h-1zM4 4h1v1h-1zM104 1h1v1h-1zM103 2h1v1h-1zM102 3h1v1h-1zM101 4h1v1h-1zM1 67h1v1h-1zM2 66h1v1h-1zM3 65h1v1h-1zM4 64h1v1h-1zM104 67h1v1h-1zM103 66h1v1h-1zM102 65h1v1h-1zM101 64h1v1h-1z"/></svg>
<div class="t" style="left:869px;width:94px;top:926px">Генерато</div>
<div class="t" style="left:869px;width:94px;top:944px">н</div>
<div class="l" style="left:21px;top:300px;width:67px;height:1px;background:#808080"></div>
<div class="l" style="left:87px;top:300px;width:1px;height:31px;background:#000"></div>
<div class="b" style="left:580px;top:940px;width:123px;height:37px;border-width:4px"></div>
<div class="d" style="left:661px;top:944px;height:29px;background:#808080"></div>
<svg class="g" style="left:579px;top:939px" width="125" height="39"><path d="M1 1h1v1h-1zM2 2h1v1h-1zM3 3h1v1h-1zM4 4h1v1h-1zM123 1h1v1h-1zM122 2h1v1h-1zM121 3h1v1h-1zM120 4h1v1h-1zM1 37h1v1h-1zM2 36h1v1h-1zM3 35h1v1h-1zM4 34h1v1h-1zM123 37h1v1h-1zM122 36h1v1h-1zM121 35h1v1h-1zM120 34h1v1h-1z"/></svg>
<div class="t" style="left:583px;width:76px;top:950px">МГУ-1</div>
<div class="t" style="left:661px;width:36px;top:950px">16</div>
</body></html>
